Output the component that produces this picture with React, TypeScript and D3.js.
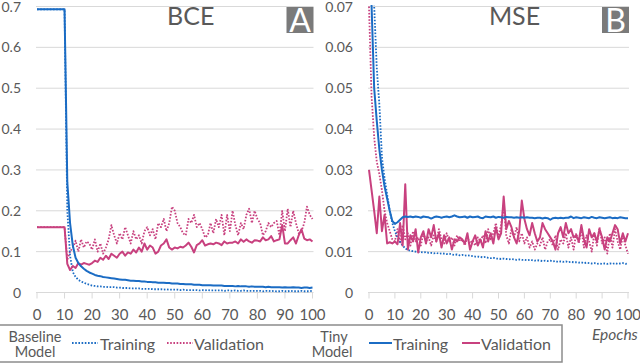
import React from "react";
import * as d3 from "d3";

// epochs 0..100
const epochs = d3.range(0, 101);

// BCE panel (A)
const tinyTrainBCE = [
  0.693, 0.693, 0.693, 0.693, 0.693, 0.693, 0.693, 0.693, 0.693, 0.693, 0.693,
  0.27, 0.17, 0.115, 0.085, 0.072, 0.064, 0.058, 0.053, 0.049, 0.046,
  0.043, 0.041, 0.04, 0.038, 0.037, 0.036, 0.035, 0.034, 0.033, 0.032,
  0.031, 0.031, 0.03, 0.029, 0.029, 0.028, 0.028, 0.027, 0.027, 0.026,
  0.026, 0.025, 0.025, 0.024, 0.024, 0.024, 0.023, 0.023, 0.022, 0.022,
  0.022, 0.021, 0.021, 0.02, 0.02, 0.02, 0.019, 0.019, 0.019, 0.018,
  0.018, 0.018, 0.018, 0.017, 0.017, 0.017, 0.017, 0.016, 0.016, 0.016,
  0.016, 0.015, 0.016, 0.015, 0.015, 0.015, 0.014, 0.015, 0.014, 0.014,
  0.014, 0.014, 0.013, 0.014, 0.013, 0.013, 0.013, 0.013, 0.012, 0.013,
  0.012, 0.012, 0.013, 0.012, 0.012, 0.011, 0.012, 0.012, 0.011, 0.012,
];
const baseTrainBCE = [
  0.693, 0.693, 0.693, 0.693, 0.693, 0.693, 0.693, 0.693, 0.693, 0.693, 0.693,
  0.2, 0.09, 0.05, 0.038, 0.031, 0.027, 0.024, 0.021, 0.019, 0.017,
  0.016, 0.015, 0.015, 0.014, 0.014, 0.013, 0.013, 0.013, 0.012, 0.012,
  0.011, 0.011, 0.011, 0.01, 0.01, 0.01, 0.01, 0.009, 0.009, 0.009,
  0.009, 0.008, 0.008, 0.008, 0.008, 0.007, 0.008, 0.007, 0.007, 0.007,
  0.007, 0.006, 0.007, 0.006, 0.006, 0.006, 0.006, 0.006, 0.005, 0.006,
  0.005, 0.006, 0.005, 0.005, 0.005, 0.005, 0.005, 0.004, 0.005, 0.005,
  0.004, 0.005, 0.004, 0.004, 0.005, 0.004, 0.004, 0.004, 0.004, 0.004,
  0.004, 0.003, 0.004, 0.004, 0.003, 0.004, 0.003, 0.003, 0.004, 0.003,
  0.003, 0.004, 0.003, 0.003, 0.003, 0.004, 0.003, 0.003, 0.003, 0.004,
];
const tinyValBCE = [
  0.16, 0.16, 0.16, 0.16, 0.16, 0.16, 0.16, 0.16, 0.16, 0.16, 0.16,
  0.07, 0.055, 0.065, 0.06, 0.072, 0.068, 0.072, 0.07, 0.068, 0.072,
  0.078, 0.075, 0.085, 0.08, 0.09, 0.082, 0.095, 0.09, 0.085, 0.095,
  0.1, 0.09, 0.098, 0.095, 0.105, 0.098, 0.11, 0.1, 0.12, 0.105,
  0.115, 0.11, 0.095, 0.1, 0.115, 0.12, 0.13, 0.11, 0.105, 0.11,
  0.108, 0.112, 0.11, 0.115, 0.122, 0.112, 0.098, 0.116, 0.12, 0.128,
  0.115, 0.118, 0.12, 0.118, 0.122, 0.12, 0.116, 0.125, 0.12, 0.122,
  0.122, 0.125, 0.12, 0.13, 0.124, 0.13, 0.125, 0.122, 0.128, 0.127,
  0.125, 0.135, 0.128, 0.13, 0.138, 0.125, 0.128, 0.13, 0.165, 0.12,
  0.12, 0.128, 0.135, 0.12, 0.14, 0.155, 0.132, 0.128, 0.13, 0.125,
];
const baseValBCE = [
  0.16, 0.16, 0.16, 0.16, 0.16, 0.16, 0.16, 0.16, 0.16, 0.16, 0.16,
  0.08, 0.1, 0.11, 0.127, 0.1, 0.13, 0.11, 0.125, 0.12, 0.105,
  0.13, 0.1, 0.12, 0.095, 0.11, 0.13, 0.165, 0.14, 0.12, 0.145,
  0.13, 0.16, 0.14, 0.12, 0.15, 0.13, 0.14, 0.12, 0.15, 0.16,
  0.14, 0.155, 0.13, 0.17, 0.16, 0.18, 0.15, 0.17, 0.21, 0.2,
  0.17, 0.16, 0.145, 0.14, 0.18, 0.17, 0.19, 0.16, 0.17, 0.155,
  0.135, 0.14, 0.17, 0.145, 0.18, 0.16, 0.19, 0.14, 0.19, 0.15,
  0.2, 0.165, 0.14, 0.17, 0.155, 0.19, 0.205, 0.17, 0.2, 0.18,
  0.17, 0.14, 0.15, 0.17, 0.16, 0.17, 0.175, 0.14, 0.2, 0.15,
  0.205, 0.16, 0.2, 0.17, 0.145, 0.15, 0.17, 0.21, 0.19, 0.18,
];

// MSE panel (B)
const tinyTrainMSE = [
  0.09, 0.07, 0.05, 0.042, 0.035, 0.03, 0.026, 0.023, 0.02, 0.0175, 0.0168,
  0.0172, 0.0178, 0.0184, 0.0186, 0.0185, 0.0186, 0.0184, 0.0186, 0.0185, 0.0183,
  0.0186, 0.0185, 0.0184, 0.0181, 0.0184, 0.0186, 0.0185, 0.0183, 0.0185, 0.0186,
  0.0184, 0.0186, 0.0189, 0.0186, 0.0184, 0.0185, 0.0186, 0.0183, 0.0186, 0.0184,
  0.0185, 0.0186, 0.0183, 0.0182, 0.0186, 0.0185, 0.0184, 0.0186, 0.0183, 0.0185,
  0.0184, 0.0183, 0.0185, 0.0184, 0.0184, 0.0183, 0.0184, 0.0183, 0.0184, 0.0183,
  0.0184, 0.0183, 0.0183, 0.0182, 0.0183, 0.0183, 0.0181, 0.0183, 0.0182, 0.0178,
  0.0182, 0.0183, 0.0182, 0.0183, 0.0182, 0.0183, 0.0183, 0.0186, 0.0182, 0.0184,
  0.0183, 0.0182, 0.0184, 0.0183, 0.0182, 0.0185, 0.0183, 0.0182, 0.0184, 0.0183,
  0.0182, 0.0183, 0.0184, 0.0182, 0.0183, 0.0182, 0.0184, 0.0183, 0.0182, 0.0182,
];
const baseTrainMSE = [
  0.12, 0.09, 0.07, 0.055, 0.046, 0.033, 0.028, 0.024, 0.02, 0.017, 0.015,
  0.0135, 0.0124, 0.0115, 0.0108, 0.0104, 0.0102, 0.0101, 0.01, 0.0099, 0.0099,
  0.0098, 0.0099, 0.0097, 0.0097, 0.0096, 0.0097, 0.0095, 0.0096, 0.0095, 0.0094,
  0.0095, 0.0093, 0.0092, 0.0093, 0.0091, 0.0092, 0.009, 0.0091, 0.009, 0.0089,
  0.0088, 0.0088, 0.0087, 0.0086, 0.0087, 0.0085, 0.0084, 0.0085, 0.0083, 0.0083,
  0.0082, 0.0083, 0.0082, 0.0081, 0.0082, 0.0081, 0.008, 0.0081, 0.008, 0.008,
  0.0079, 0.008, 0.0079, 0.0078, 0.0079, 0.0078, 0.0077, 0.0078, 0.0077, 0.0078,
  0.0076, 0.0077, 0.0075, 0.0076, 0.0075, 0.0076, 0.0074, 0.0075, 0.0074, 0.0074,
  0.0073, 0.0074, 0.0072, 0.0073, 0.0072, 0.0071, 0.0072, 0.007, 0.0071, 0.007,
  0.0071, 0.007, 0.0071, 0.007, 0.0072, 0.007, 0.0071, 0.0072, 0.007, 0.0071,
];
const tinyValMSE = [
  0.03, 0.025, 0.02, 0.0145, 0.0235, 0.015, 0.019, 0.012, 0.0123, 0.012, 0.0125,
  0.0118, 0.017, 0.0115, 0.0265, 0.0105, 0.014, 0.0125, 0.0155, 0.0098, 0.0135,
  0.015, 0.012, 0.0155, 0.0135, 0.0165, 0.0125, 0.0145, 0.011, 0.014, 0.012,
  0.0135, 0.0105, 0.013, 0.0125, 0.0135, 0.013, 0.012, 0.0145, 0.0105, 0.0125,
  0.014, 0.0115, 0.013, 0.011, 0.015, 0.0125, 0.0145, 0.012, 0.016, 0.013,
  0.0145, 0.0235, 0.0155, 0.0175, 0.016, 0.0135, 0.012, 0.015, 0.0225, 0.018,
  0.0155, 0.014, 0.017, 0.0145, 0.0125, 0.0135, 0.017, 0.0155, 0.0145, 0.0135,
  0.0125, 0.0105, 0.0145, 0.016, 0.0135, 0.017, 0.0145, 0.0155, 0.0135, 0.014,
  0.0125, 0.0165, 0.013, 0.011, 0.0155, 0.0135, 0.0145, 0.0125, 0.0155, 0.0135,
  0.0105, 0.0135, 0.0125, 0.0145, 0.0165, 0.0155, 0.012, 0.0145, 0.0125, 0.0145,
];
const baseValMSE = [
  0.07, 0.048, 0.038, 0.032, 0.029, 0.025, 0.02, 0.017, 0.015, 0.013, 0.0125,
  0.0155, 0.012, 0.0165, 0.013, 0.0145, 0.0115, 0.015, 0.0125, 0.0135, 0.0115,
  0.0145, 0.0125, 0.0135, 0.0115, 0.014, 0.0125, 0.0155, 0.013, 0.012, 0.0145,
  0.0125, 0.0135, 0.0115, 0.014, 0.0125, 0.013, 0.0115, 0.0135, 0.012, 0.0128,
  0.0115, 0.0135, 0.0125, 0.014, 0.012, 0.0155, 0.013, 0.0145, 0.017, 0.0135,
  0.0165, 0.0215, 0.014, 0.012, 0.0155, 0.0135, 0.016, 0.0125, 0.0145, 0.012,
  0.0135, 0.011, 0.0125, 0.0105, 0.012, 0.0115, 0.0135, 0.0105, 0.0125, 0.013,
  0.0115, 0.014, 0.0105, 0.013, 0.012, 0.0145, 0.011, 0.0135, 0.0105, 0.0145,
  0.012, 0.0155, 0.011, 0.014, 0.0125, 0.01, 0.0145, 0.0115, 0.016, 0.012,
  0.0135, 0.0095, 0.0145, 0.011, 0.0155, 0.0125, 0.0105, 0.014, 0.0115, 0.0095,
];

const xTicks = [0, 10, 20, 30, 40, 50, 60, 70, 80, 90, 100];
const bceTicks = [0, 0.1, 0.2, 0.3, 0.4, 0.5, 0.6, 0.7];
const mseTicks = [0, 0.01, 0.02, 0.03, 0.04, 0.05, 0.06, 0.07];

const BLUE = "#1b6cc4";
const PINK = "#c8417f";
const GRID = "#d9d9d9";
const TEXT = "#595959";
const FONT = "Lato, 'Open Sans', sans-serif";

function Panel({ id, left, right, yMax, yTicks, fmt, title, badge, series }) {
  const x = d3.scaleLinear().domain([0, 100]).range([left, right]);
  const y = d3.scaleLinear().domain([0, yMax]).range([292.5, 6.5]);
  const line = d3
    .line<number>()
    .x((d, i) => x(epochs[i]))
    .y((d) => y(d));

  return (
    <g>
      <clipPath id={id}>
        <rect x={left - 3} y={5} width={right - left + 6} height={290} />
      </clipPath>
      {yTicks.map((t) => (
        <line key={t} x1={left - 1} x2={right + 1} y1={y(t)} y2={y(t)} stroke={GRID} strokeWidth={1} />
      ))}
      {xTicks.map((t) => (
        <line key={t} x1={x(t)} x2={x(t)} y1={y(0)} y2={y(0) + 6} stroke={GRID} strokeWidth={1} />
      ))}
      {yTicks.map((t) => (
        <text key={t} x={left - 16} y={Math.max(y(t) + 5, 12)} textAnchor="end" fontSize={14} fill={TEXT} fontFamily={FONT}>
          {fmt(t)}
        </text>
      ))}
      {xTicks.map((t) => (
        <text key={t} x={x(t)} y={319.5} textAnchor="middle" fontSize={15} fill={TEXT} fontFamily={FONT}>
          {t}
        </text>
      ))}
      <g clipPath={`url(#${id})`} fill="none">
        {series.map((s, i) => (
          <path
            key={i}
            d={line(s.values)}
            stroke={s.color}
            strokeWidth={s.dotted ? 1.8 : 2}
            strokeDasharray={s.dotted ? "1.6 1.6" : undefined}
            strokeLinejoin="round"
          />
        ))}
      </g>
      <text x={(left + right) / 2 + 16} y={25} textAnchor="middle" fontSize={25} fill={TEXT} fontFamily={FONT}>
        {title}
      </text>
      <rect x={right - 26} y={7} width={27} height={26} fill="#7a7a7a" />
      <text x={right - 12.5} y={32} textAnchor="middle" fontSize={32} fill="#fff" fontFamily={FONT}>
        {badge}
      </text>
    </g>
  );
}

export default function App() {
  const fmtBCE = (v: number) => (v === 0 ? "0" : d3.format(".1f")(v));
  const fmtMSE = (v: number) => (v === 0 ? "0" : d3.format(".2f")(v));
  return (
    <svg width={640} height={363} style={{ position: "absolute", left: 0, top: 0, background: "#fff" }}>
      <rect width={640} height={363} fill="#fff" />
      <Panel
        id="clipA"
        left={37}
        right={312.5}
        yMax={0.7}
        yTicks={bceTicks}
        fmt={fmtBCE}
        title="BCE"
        badge="A"
        series={[
          { values: baseValBCE, color: PINK, dotted: true },
          { values: baseTrainBCE, color: BLUE, dotted: true },
          { values: tinyValBCE, color: PINK, dotted: false },
          { values: tinyTrainBCE, color: BLUE, dotted: false },
        ]}
      />
      <Panel
        id="clipB"
        left={369}
        right={628}
        yMax={0.07}
        yTicks={mseTicks}
        fmt={fmtMSE}
        title="MSE"
        badge="B"
        series={[
          { values: baseValMSE, color: PINK, dotted: true },
          { values: baseTrainMSE, color: BLUE, dotted: true },
          { values: tinyValMSE, color: PINK, dotted: false },
          { values: tinyTrainMSE, color: BLUE, dotted: false },
        ]}
      />
      {/* legend */}
      <rect x={-1} y={325} width={563} height={37} fill="none" stroke="#8c8c8c" strokeWidth={1.5} />
      <g fontFamily={FONT} fill={TEXT}>
        <text textAnchor="middle" fontSize={14.5}>
          <tspan x={35} y={341.5}>Baseline</tspan>
          <tspan x={35} y={356.5}>Model</tspan>
        </text>
        <line x1={72} x2={98} y1={343} y2={343} stroke={BLUE} strokeWidth={1.8} strokeDasharray="1.6 1.6" />
        <text x={100} y={350} fontSize={16}>Training</text>
        <line x1={167} x2={193} y1={343} y2={343} stroke={PINK} strokeWidth={1.8} strokeDasharray="1.6 1.6" />
        <text x={194} y={350} fontSize={16}>Validation</text>
        <text textAnchor="middle" fontSize={14.5}>
          <tspan x={334} y={341.5}>Tiny</tspan>
          <tspan x={332} y={356.5}>Model</tspan>
        </text>
        <line x1={369} x2={392} y1={343} y2={343} stroke={BLUE} strokeWidth={2} />
        <text x={393} y={350} fontSize={16}>Training</text>
        <line x1={462} x2={480} y1={343} y2={343} stroke={PINK} strokeWidth={2} />
        <text x={481} y={350} fontSize={16}>Validation</text>
        <text x={592} y={340} fontSize={15.5} fontStyle="italic">Epochs</text>
      </g>
    </svg>
  );
}
